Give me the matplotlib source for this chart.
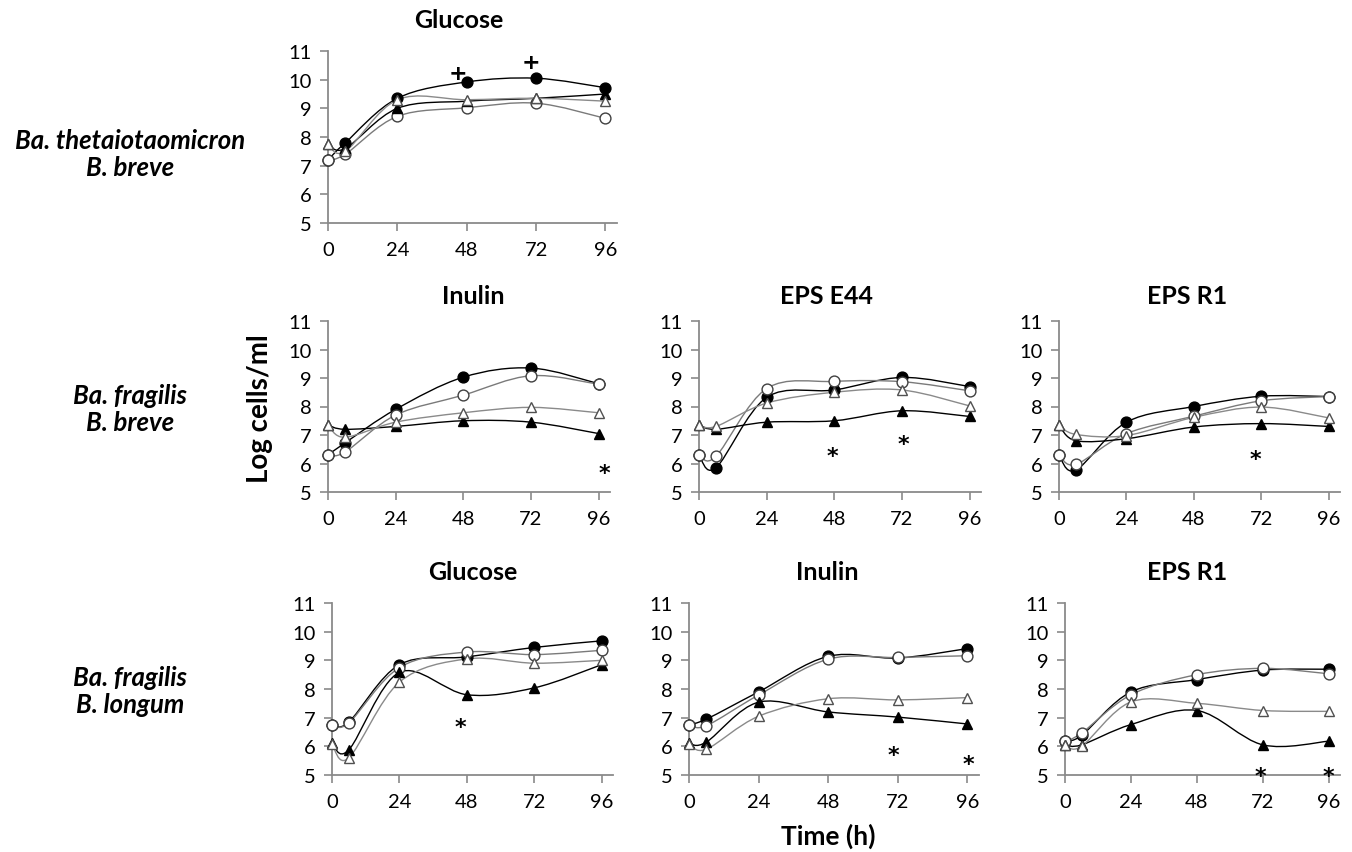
import numpy as np
import matplotlib
matplotlib.use("Agg")
import matplotlib.pyplot as plt
from matplotlib.path import Path
from matplotlib.patches import PathPatch

plt.rcParams['font.family'] = ['Lato', 'DejaVu Sans']

# ---------------- data ----------------
time_h = [0, 6, 24, 48, 72, 96]
x_ticks = [0, 24, 48, 72, 96]
y_ticks = [5, 6, 7, 8, 9, 10, 11]

# Series order in each panel: filled circle, open circle, filled triangle, open triangle
tb_glucose_fc = [7.2, 7.8, 9.35, 9.92, 10.05, 9.72]
tb_glucose_oc = [7.2, 7.4, 8.72, 9.02, 9.18, 8.65]
tb_glucose_ft = [7.75, 7.6, 9.0, 9.25, 9.35, 9.5]
tb_glucose_ot = [7.75, 7.5, 9.3, 9.3, 9.35, 9.25]

fb_inulin_fc = [6.3, 6.72, 7.9, 9.03, 9.35, 8.8]
fb_inulin_oc = [6.3, 6.4, 7.7, 8.4, 9.08, 8.78]
fb_inulin_ft = [7.35, 7.2, 7.3, 7.5, 7.45, 7.05]
fb_inulin_ot = [7.35, 6.92, 7.45, 7.78, 7.97, 7.78]

fb_e44_fc = [6.3, 5.85, 8.32, 8.58, 9.02, 8.7]
fb_e44_oc = [6.3, 6.25, 8.63, 8.88, 8.87, 8.55]
fb_e44_ft = [7.35, 7.2, 7.45, 7.5, 7.85, 7.65]
fb_e44_ot = [7.35, 7.3, 8.12, 8.5, 8.58, 8.02]

fb_r1_fc = [6.3, 5.77, 7.45, 8.0, 8.36, 8.35]
fb_r1_oc = [6.3, 5.97, 7.05, 7.66, 8.2, 8.35]
fb_r1_ft = [7.35, 6.8, 6.87, 7.28, 7.4, 7.3]
fb_r1_ot = [7.35, 7.02, 6.98, 7.62, 7.98, 7.6]

fl_glucose_fc = [6.76, 6.85, 8.85, 9.12, 9.45, 9.68]
fl_glucose_oc = [6.76, 6.82, 8.75, 9.29, 9.2, 9.35]
fl_glucose_ft = [6.1, 5.88, 8.58, 7.8, 8.04, 8.85]
fl_glucose_ot = [6.08, 5.6, 8.24, 9.05, 8.9, 9.0]

fl_inulin_fc = [6.76, 6.95, 7.9, 9.14, 9.08, 9.41]
fl_inulin_oc = [6.75, 6.72, 7.79, 9.04, 9.1, 9.16]
fl_inulin_ft = [6.1, 6.15, 7.54, 7.2, 7.02, 6.78]
fl_inulin_ot = [6.08, 5.9, 7.05, 7.66, 7.62, 7.7]

fl_r1_fc = [6.2, 6.38, 7.9, 8.33, 8.66, 8.69]
fl_r1_oc = [6.18, 6.46, 7.8, 8.5, 8.72, 8.53]
fl_r1_ft = [6.05, 6.05, 6.76, 7.25, 6.05, 6.18]
fl_r1_ot = [6.05, 6.0, 7.55, 7.5, 7.25, 7.22]

# significance marks: (symbol, x, y)
tb_glucose_marks = [("+", 45.0, 10.22), ("+", 70.1, 10.6)]
fb_inulin_marks = [("*", 97.9, 5.65)]
fb_e44_marks = [("*", 47.2, 6.28), ("*", 72.4, 6.7)]
fb_r1_marks = [("*", 69.8, 6.16)]
fl_glucose_marks = [("*", 45.8, 6.68)]
fl_inulin_marks = [("*", 70.4, 5.7), ("*", 96.3, 5.4)]
fl_r1_marks = [("*", 71.2, 4.95), ("*", 95.6, 4.95)]

titles = ["Glucose", "Inulin", "EPS E44", "EPS R1", "Glucose", "Inulin", "EPS R1"]
row_labels = [("Ba. thetaiotaomicron", "B. breve"),
              ("Ba. fragilis", "B. breve"),
              ("Ba. fragilis", "B. longum")]

# ---------------- drawing ----------------
W, H = 1352, 853
fig = plt.figure(figsize=(W / 100, H / 100), dpi=100)

AXIS_COL = "#8a8a8a"


def px_axes(left, top, width, height):
    return fig.add_axes([left / W, 1 - (top + height) / H, width / W, height / H])


def smooth_path(xs, ys):
    pts = np.column_stack([xs, ys]).astype(float)
    n = len(pts)
    verts = [pts[0]]
    codes = [Path.MOVETO]
    for i in range(n - 1):
        p0 = pts[i - 1] if i > 0 else pts[i]
        p1 = pts[i]
        p2 = pts[i + 1]
        p3 = pts[i + 2] if i + 2 < n else pts[i + 1]
        c1 = p1 + (p2 - p0) / 6.0
        c2 = p2 - (p3 - p1) / 6.0
        verts += [c1, c2, p2]
        codes += [Path.CURVE4] * 3
    return Path(verts, codes)


styles = [
    dict(marker="o", mfc="black", mec="black", line="black"),
    dict(marker="o", mfc="white", mec="#404040", line="#7a7a7a"),
    dict(marker="^", mfc="black", mec="black", line="black"),
    dict(marker="^", mfc="white", mec="#505050", line="#8a8a8a"),
]


def draw_panel(ax, series, marks):
    for z, (vals, st) in enumerate(zip(series, styles)):
        patch = PathPatch(smooth_path(time_h, vals), facecolor="none",
                          edgecolor=st["line"], lw=1.0, zorder=2 + z * 0.1,
                          transform=ax.transData)
        ax.add_patch(patch)
    for z, (vals, st) in enumerate(zip(series, styles)):
        ax.plot(time_h, vals, linestyle="none", marker=st["marker"],
                markersize=7.8,
                markerfacecolor=st["mfc"], markeredgecolor=st["mec"],
                markeredgewidth=1.0, zorder=3 + z * 0.1, clip_on=False)
    for sym, mx, my in marks:
        ax.text(mx, my, sym, ha="center", va="center", fontsize=16,
                fontweight="bold", color="black", zorder=5,
                family=["DejaVu Sans"])
    ax.set_xlim(0, 100)
    ax.set_ylim(5, 11)
    ax.set_xticks(x_ticks)
    ax.set_yticks(y_ticks)
    ax.tick_params(axis="both", direction="out", length=6, width=1.2,
                   color=AXIS_COL, labelsize=14.5, labelcolor="black")
    ax.tick_params(axis="y", pad=6)
    ax.tick_params(axis="x", pad=7)
    for s in ["top", "right"]:
        ax.spines[s].set_visible(False)
    for s in ["left", "bottom"]:
        ax.spines[s].set_color(AXIS_COL)
        ax.spines[s].set_linewidth(1.3)
    ax.patch.set_alpha(0)


panels = [
    ((328, 52, 289, 172), [tb_glucose_fc, tb_glucose_oc, tb_glucose_ft, tb_glucose_ot], tb_glucose_marks),
    ((328, 322, 282, 171), [fb_inulin_fc, fb_inulin_oc, fb_inulin_ft, fb_inulin_ot], fb_inulin_marks),
    ((699, 322, 282, 171), [fb_e44_fc, fb_e44_oc, fb_e44_ft, fb_e44_ot], fb_e44_marks),
    ((1059, 322, 281, 171), [fb_r1_fc, fb_r1_oc, fb_r1_ft, fb_r1_ot], fb_r1_marks),
    ((332, 604, 281, 172), [fl_glucose_fc, fl_glucose_oc, fl_glucose_ft, fl_glucose_ot], fl_glucose_marks),
    ((689, 604, 290, 172), [fl_inulin_fc, fl_inulin_oc, fl_inulin_ft, fl_inulin_ot], fl_inulin_marks),
    ((1065, 604, 275, 172), [fl_r1_fc, fl_r1_oc, fl_r1_ft, fl_r1_ot], fl_r1_marks),
]
title_pos = [(459, 21), (473, 297), (827, 297), (1187, 297), (473, 573), (827, 573), (1187, 573)]

for (rect, series, marks), title, (tx, ty) in zip(panels, titles, title_pos):
    ax = px_axes(*rect)
    draw_panel(ax, series, marks)
    fig.text(tx / W, 1 - ty / H, title, ha="center", va="center",
             fontsize=18, fontweight="bold")

row_y = [(141, 168), (396, 423), (678, 705)]
for (l1, l2), (y1, y2) in zip(row_labels, row_y):
    fig.text(130 / W, 1 - y1 / H, l1, ha="center", va="center", fontsize=18.5,
             fontweight="bold", style="italic")
    fig.text(130 / W, 1 - y2 / H, l2, ha="center", va="center", fontsize=18.5,
             fontweight="bold", style="italic")

fig.text(260 / W, 1 - 409 / H, "Log cells/ml", rotation=90, ha="center",
         va="center", fontsize=20, fontweight="bold")
fig.text(828 / W, 1 - 836 / H, "Time (h)", ha="center", va="center",
         fontsize=19, fontweight="bold")

fig.savefig("out.png", dpi=100, facecolor="white")
